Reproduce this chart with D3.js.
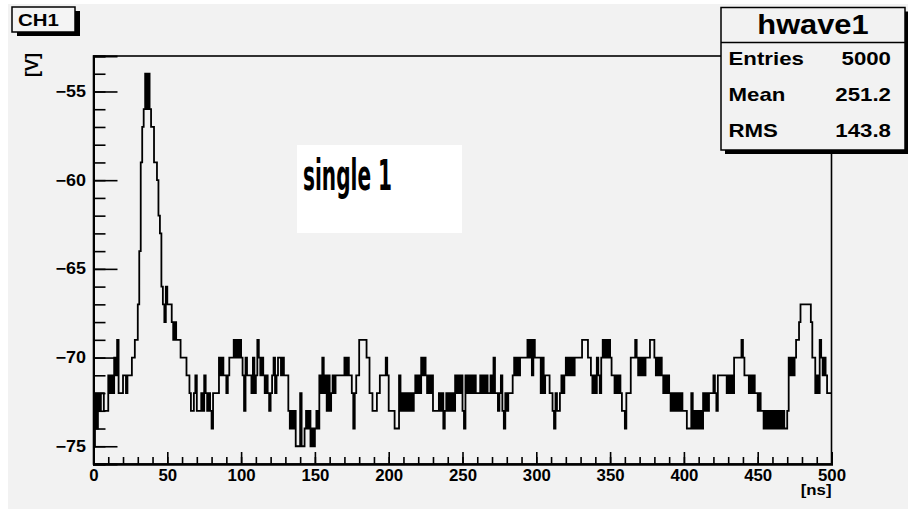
<!DOCTYPE html>
<html lang="en">
<head>
    <meta charset="UTF-8">
    <title>hwave1</title>
    <style>
        body { margin: 0; background: #ffffff; }
        svg { display: block; }
        text { font-family: "Liberation Sans", Arial, Helvetica, sans-serif; font-weight: bold; fill: #000; }
    </style>
</head>
<body>
    <div id="chart"></div>
    <script src="https://d3js.org/d3.v7.min.js"></script>
    <script>
        // histogram hwave1, one bin per ns, 0..500 ns
        const xRange = [0, 500];
        const yRange = [-76, -53];
        const xMajorTicks = [0, 50, 100, 150, 200, 250, 300, 350, 400, 450, 500];
        const yMajorTicks = [-75, -70, -65, -60, -55];
        const statLabels = ["Entries", "Mean", "RMS"];
        const statValues = ["5000", "251.2", "143.8"];
        const binValues = [
            -75,-72,-74,-72,-73,-72,-72,-73,-73,-73,
            -71,-72,-71,-72,-70,-71,-69,-72,-72,-72,
            -71,-71,-72,-71,-71,-71,-70,-70,-69,-69,
            -67,-64,-59,-57,-56,-54,-56,-54,-56,-57,
            -57,-59,-59,-60,-62,-63,-66,-67,-68,-66,
            -67,-67,-67,-68,-69,-68,-69,-69,-69,-70,
            -70,-70,-70,-71,-71,-72,-73,-73,-72,-71,
            -73,-73,-73,-72,-73,-71,-72,-73,-72,-73,
            -74,-72,-72,-72,-72,-70,-71,-70,-71,-71,
            -72,-71,-70,-70,-70,-69,-70,-69,-70,-69,
            -70,-71,-73,-70,-71,-71,-71,-72,-70,-72,
            -71,-69,-70,-71,-70,-71,-72,-71,-72,-73,
            -72,-71,-70,-72,-71,-70,-70,-71,-70,-71,
            -71,-71,-73,-74,-73,-74,-73,-75,-75,-75,
            -72,-75,-75,-74,-73,-74,-73,-75,-74,-75,
            -74,-73,-74,-71,-72,-70,-72,-71,-73,-71,
            -73,-72,-71,-72,-71,-71,-71,-71,-71,-71,
            -70,-71,-70,-71,-71,-72,-74,-72,-71,-71,
            -69,-69,-69,-69,-69,-70,-70,-72,-72,-73,
            -73,-73,-72,-72,-71,-71,-71,-71,-70,-71,
            -73,-73,-73,-73,-74,-74,-74,-71,-73,-72,
            -73,-72,-73,-72,-73,-72,-73,-72,-71,-72,
            -71,-72,-70,-71,-70,-71,-72,-71,-72,-71,
            -73,-73,-73,-73,-72,-73,-72,-74,-73,-72,
            -73,-72,-73,-72,-73,-71,-72,-71,-72,-71,
            -73,-74,-71,-72,-71,-72,-71,-72,-71,-72,
            -72,-72,-71,-72,-71,-72,-71,-72,-72,-71,
            -72,-70,-72,-72,-73,-72,-71,-73,-74,-72,
            -73,-72,-72,-72,-71,-70,-71,-70,-71,-70,
            -70,-70,-70,-70,-69,-70,-69,-71,-69,-70,
            -70,-70,-70,-72,-70,-72,-71,-71,-71,-72,
            -72,-73,-74,-72,-73,-73,-72,-71,-72,-71,
            -70,-71,-70,-71,-70,-71,-70,-70,-70,-70,
            -70,-69,-69,-69,-69,-70,-70,-71,-72,-71,
            -72,-70,-71,-72,-70,-69,-70,-69,-70,-69,
            -70,-71,-71,-72,-71,-72,-71,-72,-73,-73,
            -74,-72,-72,-72,-70,-70,-70,-69,-70,-71,
            -70,-71,-70,-71,-70,-70,-70,-69,-69,-69,
            -70,-71,-70,-71,-70,-71,-72,-71,-72,-71,
            -72,-73,-72,-73,-72,-73,-72,-73,-72,-73,
            -73,-73,-74,-74,-74,-72,-74,-73,-74,-73,
            -74,-73,-74,-72,-73,-72,-73,-72,-72,-72,
            -71,-72,-73,-71,-71,-71,-71,-71,-71,-72,
            -71,-72,-71,-72,-70,-70,-70,-70,-70,-69,
            -70,-71,-71,-71,-72,-71,-72,-71,-72,-72,
            -73,-72,-73,-73,-74,-73,-74,-73,-74,-73,
            -74,-73,-74,-73,-74,-73,-74,-73,-74,-74,
            -73,-70,-71,-70,-71,-70,-69,-69,-68,-67,
            -67,-67,-67,-67,-67,-67,-68,-70,-70,-72,
            -71,-72,-69,-70,-71,-70,-71,-72,-72,-72
        ];

        const W = 908, H = 509;
        const bg = "#f2f2f2";

        const svg = d3.select("#chart").append("svg")
            .attr("width", W).attr("height", H);

        svg.append("rect").attr("x", 8).attr("y", 4)
            .attr("width", W - 8).attr("height", H - 4).attr("fill", bg);

        const x = d3.scaleLinear().domain(xRange).range([93.5, 831.5]);
        const y = d3.scaleLinear().domain(yRange).range([464, 56]);

        function widen(sel, k) {
            sel.each(function () {
                const len = this.getComputedTextLength();
                d3.select(this).attr("textLength", len * k).attr("lengthAdjust", "spacingAndGlyphs");
            });
        }

        // frame
        svg.append("rect")
            .attr("x", x(0)).attr("y", y(-53))
            .attr("width", x(500) - x(0)).attr("height", y(-76) - y(-53))
            .attr("fill", "none").attr("stroke", "#000").attr("stroke-width", 1.6);

        // histogram outline
        const pts = binValues.map((v, i) => [i, v]);
        pts.push([binValues.length, binValues[binValues.length - 1]]);
        const line = d3.line()
            .x(d => x(d[0]))
            .y(d => y(d[1]))
            .curve(d3.curveStepAfter);
        svg.append("path")
            .datum(pts)
            .attr("d", line)
            .attr("fill", "none")
            .attr("stroke", "#000")
            .attr("stroke-width", 1.8);

        // y axis (ticks point inward like ROOT)
        const yMinor = svg.append("g").attr("transform", `translate(${x(0)},0)`)
            .call(d3.axisLeft(y).tickValues(d3.range(-76, -52, 1)).tickSize(-12).tickFormat(""));
        const yMajor = svg.append("g").attr("transform", `translate(${x(0)},0)`)
            .call(d3.axisLeft(y).tickValues(yMajorTicks).tickSize(-24).tickPadding(7.5).tickFormat(d3.format("d")));
        // x axis
        const xMinor = svg.append("g").attr("transform", `translate(0,${y(-76)})`)
            .call(d3.axisBottom(x).tickValues(d3.range(0, 501, 10)).tickSize(-7).tickFormat(""));
        const xMajor = svg.append("g").attr("transform", `translate(0,${y(-76)})`)
            .call(d3.axisBottom(x).tickValues(xMajorTicks).tickSize(-12).tickPadding(5.5).tickFormat(d3.format("d")));

        [yMinor, yMajor, xMinor, xMajor].forEach(g => {
            g.select(".domain").attr("stroke", "#000").attr("stroke-width", 2);
            g.selectAll(".tick line").attr("stroke", "#000").attr("stroke-width", 1.6);
            g.selectAll(".tick text")
                .style("font-family", '"Liberation Sans", Arial, sans-serif')
                .style("font-weight", "bold").attr("font-size", 16).attr("fill", "#000");
        });
        widen(yMajor.selectAll(".tick text"), 1.12);
        widen(xMajor.selectAll(".tick text"), 1.05);

        // axis titles
        svg.append("text").attr("x", x(500)).attr("y", 495)
            .attr("text-anchor", "end").attr("font-size", 15).text("[ns]")
            .call(widen, 1.12);
        svg.append("text")
            .attr("transform", "translate(38,53) rotate(-90)")
            .attr("text-anchor", "end").attr("font-size", 18).text("[V]");

        // CH1 label box
        svg.append("rect").attr("x", 17).attr("y", 11).attr("width", 63).attr("height", 25).attr("fill", "#000");
        svg.append("rect").attr("x", 12).attr("y", 7).attr("width", 63).attr("height", 25)
            .attr("fill", "#f4f4f4").attr("stroke", "#000").attr("stroke-width", 1.5);
        svg.append("text").attr("x", 18).attr("y", 25.5).attr("font-size", 17).text("CH1")
            .call(widen, 1.2);

        // stats box
        const sb = { x0: 721, y0: 7.5, x1: 905, y1: 150 };
        svg.append("rect").attr("x", sb.x0 + 4).attr("y", sb.y0 + 4)
            .attr("width", sb.x1 - sb.x0).attr("height", sb.y1 - sb.y0).attr("fill", "#000");
        svg.append("rect").attr("x", sb.x0).attr("y", sb.y0)
            .attr("width", sb.x1 - sb.x0).attr("height", sb.y1 - sb.y0)
            .attr("fill", bg).attr("stroke", "#000").attr("stroke-width", 1.5);
        svg.append("line").attr("x1", sb.x0).attr("x2", sb.x1).attr("y1", 42.5).attr("y2", 42.5)
            .attr("stroke", "#000").attr("stroke-width", 1.5);
        svg.append("text").attr("x", (sb.x0 + sb.x1) / 2).attr("y", 33.5)
            .attr("text-anchor", "middle").attr("font-size", 28).text("hwave1")
            .call(widen, 1.1);
        const rowY = [65, 100.5, 136.5];
        statLabels.forEach((s, i) => {
            svg.append("text").attr("x", 728.5).attr("y", rowY[i]).attr("font-size", 19).text(s)
                .call(widen, 1.17);
            svg.append("text").attr("x", 891).attr("y", rowY[i]).attr("text-anchor", "end")
                .attr("font-size", 19).text(statValues[i])
                .call(widen, 1.17);
        });

        // annotation
        svg.append("rect").attr("x", 297).attr("y", 145).attr("width", 165).attr("height", 88).attr("fill", "#ffffff");
        svg.append("text").attr("x", 303).attr("y", 190)
            .style("font-family", '"DejaVu Sans Condensed", "Liberation Sans Narrow", "DejaVu Sans", sans-serif')
            .attr("font-size", 42).text("single 1")
            .attr("textLength", 89).attr("lengthAdjust", "spacingAndGlyphs");
    </script>
</body>
</html>
